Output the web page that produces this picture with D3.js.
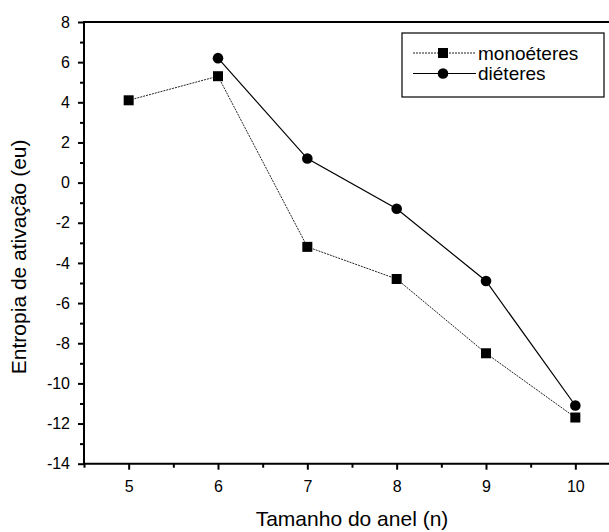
<!DOCTYPE html>
<html>
<head>
<meta charset="utf-8">
<script src="https://cdn.jsdelivr.net/npm/d3@7"></script>
<style>
  html, body { margin: 0; padding: 0; background: #fff; overflow: hidden; }
  svg { display: block; font-family: "Liberation Sans", Arial, sans-serif; }
</style>
</head>
<body>
<div id="chart"></div>
<script>
// ring sizes and activation entropies (eu)
const ringSizesMono = [5, 6, 7, 8, 9, 10];
const entropyMono = [4.1, 5.3, -3.2, -4.8, -8.5, -11.7];
const ringSizesDi = [6, 7, 8, 9, 10];
const entropyDi = [6.2, 1.2, -1.3, -4.9, -11.1];

const xTicks = [5, 6, 7, 8, 9, 10];
const xMinorTicks = [4.5, 5.5, 6.5, 7.5, 8.5, 9.5];
const yTicks = [-14, -12, -10, -8, -6, -4, -2, 0, 2, 4, 6, 8];
const yMinorTicks = [-13, -11, -9, -7, -5, -3, -1, 1, 3, 5, 7];

const seriesNames = ["monoéteres", "diéteres"];

const width = 609;
const height = 532;
const marginLeft = 84;
const marginTop = 22;
const plotRight = 620; // right frame falls just outside the picture
const plotBottom = 463.7;

const svg = d3
  .create("svg")
  .attr("width", width)
  .attr("height", height)
  .attr("viewBox", [0, 0, width, height]);

svg.append("rect").attr("width", width).attr("height", height).attr("fill", "#fff");

const x = d3.scaleLinear().domain([4.5, 10.5]).range([marginLeft, plotRight]);
const y = d3.scaleLinear().domain([-14, 8]).range([plotBottom, marginTop]);

const plain = (d) => String(d); // hyphen minus, like the original

// x axis, major + minor
svg
  .append("g")
  .attr("transform", `translate(0,${plotBottom})`)
  .call(d3.axisBottom(x).tickValues(xTicks).tickSize(6).tickPadding(11).tickFormat(plain))
  .call((g) => g.select(".domain").remove());
svg
  .append("g")
  .attr("transform", `translate(0,${plotBottom})`)
  .call(d3.axisBottom(x).tickValues(xMinorTicks).tickSize(4).tickFormat(""))
  .call((g) => g.select(".domain").remove());

// y axis, major + minor
svg
  .append("g")
  .attr("transform", `translate(${marginLeft},0)`)
  .call(d3.axisLeft(y).tickValues(yTicks).tickSize(6).tickPadding(8).tickFormat(plain))
  .call((g) => g.select(".domain").remove());
svg
  .append("g")
  .attr("transform", `translate(${marginLeft},0)`)
  .call(d3.axisLeft(y).tickValues(yMinorTicks).tickSize(4).tickFormat(""))
  .call((g) => g.select(".domain").remove());

svg.selectAll(".tick line").attr("stroke", "#000").attr("stroke-width", 2);
svg
  .selectAll(".tick text")
  .attr("fill", "#000")
  .attr("font-size", 16)
  .attr("font-family", "Liberation Sans, Arial, sans-serif");

// frame: left, bottom and top only (right edge is off the picture)
svg
  .append("path")
  .attr("d", `M${width + 2},${marginTop}H${marginLeft}V${plotBottom}H${width + 2}`)
  .attr("fill", "none")
  .attr("stroke", "#000")
  .attr("stroke-width", 2);

// axis titles
svg
  .append("text")
  .attr("x", (marginLeft + plotRight) / 2)
  .attr("y", 526)
  .attr("text-anchor", "middle")
  .attr("font-size", 21)
  .text("Tamanho do anel (n)");

svg
  .append("text")
  .attr("transform", `translate(26,${(marginTop + plotBottom) / 2 + 14}) rotate(-90)`)
  .attr("text-anchor", "middle")
  .attr("font-size", 21)
  .text("Entropia de ativação (eu)");

const mono = ringSizesMono.map((n, i) => ({ n, v: entropyMono[i] }));
const di = ringSizesDi.map((n, i) => ({ n, v: entropyDi[i] }));

const line = d3
  .line()
  .x((d) => x(d.n))
  .y((d) => y(d.v));

// monoéteres: dotted line, squares
svg
  .append("path")
  .datum(mono)
  .attr("d", line)
  .attr("fill", "none")
  .attr("stroke", "#222")
  .attr("stroke-width", 1)
  .attr("stroke-dasharray", "2,1");

// diéteres: solid line, circles
svg
  .append("path")
  .datum(di)
  .attr("d", line)
  .attr("fill", "none")
  .attr("stroke", "#000")
  .attr("stroke-width", 1.2);

svg
  .append("g")
  .selectAll("rect")
  .data(mono)
  .join("rect")
  .attr("x", (d) => x(d.n) - 5)
  .attr("y", (d) => y(d.v) - 5)
  .attr("width", 10)
  .attr("height", 10)
  .attr("fill", "#000");

svg
  .append("g")
  .selectAll("circle")
  .data(di)
  .join("circle")
  .attr("cx", (d) => x(d.n))
  .attr("cy", (d) => y(d.v))
  .attr("r", 5.3)
  .attr("fill", "#000");

// legend
const legend = svg.append("g").attr("transform", "translate(402,33)");
legend
  .append("rect")
  .attr("width", 202)
  .attr("height", 64)
  .attr("fill", "#fff")
  .attr("stroke", "#000")
  .attr("stroke-width", 1.2);

const rows = legend
  .selectAll("g.row")
  .data(seriesNames)
  .join("g")
  .attr("class", "row")
  .attr("transform", (d, i) => `translate(0,${20 + i * 20.5})`);

rows
  .append("line")
  .attr("x1", 11)
  .attr("x2", 74)
  .attr("stroke", (d, i) => (i === 0 ? "#222" : "#000"))
  .attr("stroke-width", (d, i) => (i === 0 ? 1 : 1.2))
  .attr("stroke-dasharray", (d, i) => (i === 0 ? "2,1" : null));

rows
  .filter((d, i) => i === 0)
  .append("rect")
  .attr("x", 36)
  .attr("y", -5)
  .attr("width", 10)
  .attr("height", 10)
  .attr("fill", "#000");

rows
  .filter((d, i) => i === 1)
  .append("circle")
  .attr("cx", 41)
  .attr("r", 5.3)
  .attr("fill", "#000");

rows
  .append("text")
  .attr("x", 76)
  .attr("dy", "0.36em")
  .attr("font-size", 19)
  .text((d) => d);

d3.select("#chart").append(() => svg.node());
</script>
</body>
</html>
